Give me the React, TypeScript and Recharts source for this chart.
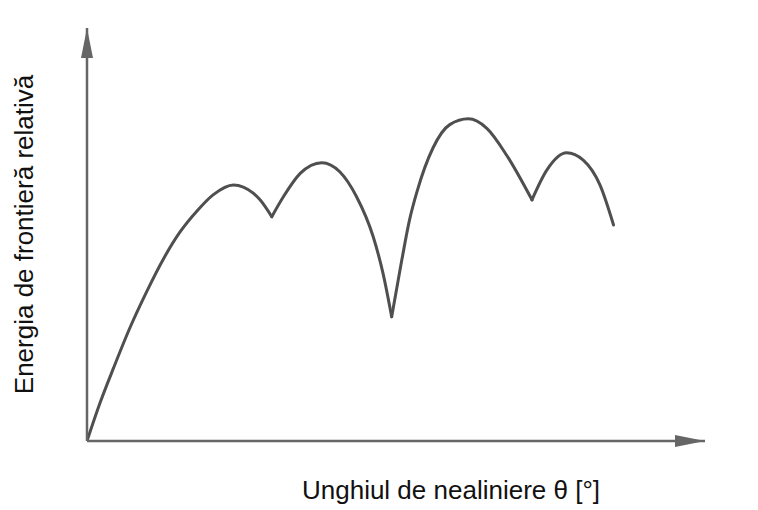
import React from 'react';
import { LineChart, Line, XAxis, YAxis, Label } from 'recharts';

// Relative boundary energy vs misorientation angle (arbitrary units 0..100)
const segmentRise = [
  { x: 0, y: 0 },
  { x: 2.1, y: 9.2 },
  { x: 4.3, y: 17.7 },
  { x: 7.0, y: 27.6 },
  { x: 9.7, y: 36.3 },
  { x: 12.3, y: 43.9 },
  { x: 15.0, y: 50.5 },
  { x: 17.8, y: 55.7 },
  { x: 20.4, y: 59.6 },
  { x: 23.7, y: 62.0 },
  { x: 26.9, y: 60.0 },
  { x: 28.0, y: 58.4 },
  { x: 29.9, y: 54.3 },
];

const segmentSecond = [
  { x: 29.9, y: 54.3 },
  { x: 31.8, y: 59.2 },
  { x: 34.5, y: 64.8 },
  { x: 38.0, y: 67.4 },
  { x: 40.9, y: 65.2 },
  { x: 43.6, y: 59.2 },
  { x: 46.3, y: 49.5 },
  { x: 47.9, y: 40.6 },
  { x: 49.3, y: 30.1 },
];

const segmentThird = [
  { x: 49.3, y: 30.1 },
  { x: 50.9, y: 43.5 },
  { x: 52.2, y: 53.6 },
  { x: 53.4, y: 60.4 },
  { x: 56.0, y: 71.0 },
  { x: 58.7, y: 76.6 },
  { x: 61.7, y: 78.0 },
  { x: 64.7, y: 75.7 },
  { x: 67.9, y: 69.2 },
  { x: 72.0, y: 58.4 },
];

const segmentFourth = [
  { x: 72.0, y: 58.4 },
  { x: 74.4, y: 65.6 },
  { x: 77.6, y: 69.8 },
  { x: 80.3, y: 68.0 },
  { x: 83.0, y: 62.0 },
  { x: 85.2, y: 52.3 },
];

const segments = [segmentRise, segmentSecond, segmentThird, segmentFourth];

const xLabelText = 'Unghiul de nealiniere θ [°]';
const yLabelText = 'Energia de frontieră relativă';

const FONT = '"Liberation Sans", Arial, Helvetica, sans-serif';
const AXIS_COLOR = '#666666';
const CURVE_COLOR = '#4f4f4f';

const XLabel = (props: any) => {
  const vb = props.viewBox;
  return (
    <text
      x={vb.x + 364}
      y={vb.y + 58}
      textAnchor="middle"
      fontFamily={FONT}
      fontSize={26}
      fill="#111"
    >
      {xLabelText}
    </text>
  );
};

const YLabel = (props: any) => {
  const vb = props.viewBox;
  const cx = vb.x + 33;
  const cy = vb.y + vb.height / 2;
  return (
    <text
      x={cx}
      y={cy}
      transform={`rotate(-90, ${cx}, ${cy})`}
      textAnchor="middle"
      fontFamily={FONT}
      fontSize={26}
      fill="#111"
    >
      {yLabelText}
    </text>
  );
};

export default function App() {
  return (
    <div style={{ position: 'absolute', left: 0, top: 0, width: 758, height: 510, background: '#fff' }}>
      <svg width={0} height={0} style={{ position: 'absolute' }}>
        <defs>
          <marker
            id="axisArrow"
            viewBox="0 0 30 12"
            refX={30}
            refY={6}
            markerWidth={30}
            markerHeight={12}
            markerUnits="userSpaceOnUse"
            orient="auto-start-reverse"
          >
            <path d="M0,0 L30,6 L0,12 Z" fill={AXIS_COLOR} />
          </marker>
        </defs>
      </svg>
      <LineChart width={758} height={510} margin={{ top: 28, right: 53, bottom: 0, left: 0 }}>
        <XAxis
          type="number"
          dataKey="x"
          domain={[0, 100]}
          allowDataOverflow
          tick={false}
          tickLine={false}
          height={69}
          axisLine={{ stroke: AXIS_COLOR, strokeWidth: 2.5, markerEnd: 'url(#axisArrow)' } as any}
        >
          <Label content={XLabel} />
        </XAxis>
        <YAxis
          type="number"
          dataKey="y"
          domain={[0, 100]}
          allowDataOverflow
          tick={false}
          tickLine={false}
          width={87}
          axisLine={{ stroke: AXIS_COLOR, strokeWidth: 2.5, markerStart: 'url(#axisArrow)' } as any}
        >
          <Label content={YLabel} />
        </YAxis>
        {segments.map((seg, i) => (
          <Line
            key={i}
            data={seg}
            dataKey="y"
            type="monotone"
            stroke={CURVE_COLOR}
            strokeWidth={3}
            dot={false}
            activeDot={false}
            isAnimationActive={false}
            strokeLinecap="round"
          />
        ))}
      </LineChart>
    </div>
  );
}
